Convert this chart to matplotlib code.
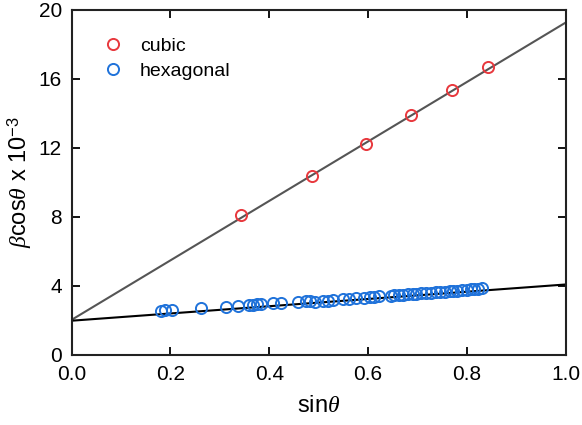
import matplotlib
matplotlib.use('Agg')
import matplotlib.pyplot as plt
import numpy as np

plt.rcParams['font.family'] = ['Liberation Sans', 'DejaVu Sans']
plt.rcParams['mathtext.fontset'] = 'custom'
plt.rcParams['mathtext.rm'] = 'Liberation Sans'
plt.rcParams['mathtext.it'] = 'Liberation Serif:italic'

RED = '#E8383D'
BLUE = '#1F72DA'
GREY = '#555555'

# Williamson-Hall data: sin(theta) vs beta*cos(theta) (x 1e-3)
cubic_x = [0.343, 0.486, 0.595, 0.687, 0.770, 0.842]
cubic_y = [8.13, 10.39, 12.25, 13.90, 15.35, 16.68]

hex_x = [0.180, 0.190, 0.203, 0.261, 0.312, 0.337, 0.360, 0.368, 0.375, 0.384,
         0.407, 0.423, 0.458, 0.475, 0.483, 0.492, 0.508, 0.518, 0.530, 0.549,
         0.561, 0.576, 0.592, 0.603, 0.613, 0.623, 0.646, 0.653, 0.662, 0.670,
         0.680, 0.690, 0.697, 0.707, 0.717, 0.727, 0.737, 0.745, 0.755, 0.765,
         0.772, 0.780, 0.790, 0.800, 0.808, 0.815, 0.822, 0.830]
hex_y = [2.57, 2.59, 2.60, 2.70, 2.80, 2.86, 2.90, 2.91, 2.92, 2.95,
         2.99, 3.02, 3.07, 3.10, 3.11, 3.08, 3.13, 3.15, 3.19, 3.24,
         3.26, 3.29, 3.32, 3.34, 3.36, 3.39, 3.43, 3.45, 3.46, 3.48,
         3.51, 3.52, 3.54, 3.57, 3.59, 3.61, 3.63, 3.65, 3.67, 3.68,
         3.71, 3.72, 3.75, 3.77, 3.79, 3.81, 3.83, 3.86]

# linear fits (intercept, slope)
cubic_fit = (2.03, 17.23)
hex_fit = (1.98, 2.10)

fig = plt.figure(figsize=(5.82, 4.25), dpi=100)
ax = fig.add_axes([0.123, 0.165, 0.849, 0.812])

xx = np.array([0.0, 1.0])
ax.plot(xx, cubic_fit[0] + cubic_fit[1] * xx, color=GREY, lw=1.5, zorder=1)
ax.plot(xx, hex_fit[0] + hex_fit[1] * xx, color='black', lw=1.5, zorder=1)

ax.plot(cubic_x, cubic_y, 'o', ms=8, mfc='none', mec=RED, mew=1.4,
        label='cubic', zorder=3)
ax.plot(hex_x, hex_y, 'o', ms=8, mfc='none', mec=BLUE, mew=1.4,
        label='hexagonal', zorder=3)

ax.set_xlim(0, 1.0)
ax.set_ylim(0, 20)
ax.set_xticks([0.0, 0.2, 0.4, 0.6, 0.8, 1.0])
ax.set_yticks([0, 4, 8, 12, 16, 20])
ax.set_xticklabels(['0.0', '0.2', '0.4', '0.6', '0.8', '1.0'])
ax.tick_params(direction='in', length=6, width=1.3, labelsize=15,
               top=True, right=True, pad=7)
for s in ax.spines.values():
    s.set_linewidth(1.5)
    s.set_color('#222222')

ax.set_xlabel(r'sin$\theta$', fontsize=17, labelpad=8)
ax.set_ylabel(r'$\beta$cos$\theta$ x 10$^{\mathrm{-3}}$', fontsize=17, labelpad=3)

ax.legend(loc='upper left', bbox_to_anchor=(0.028, 0.97), frameon=False,
          fontsize=14, handlelength=1.0, handletextpad=0.9, labelspacing=0.35)

fig.savefig('out.png', dpi=100)
